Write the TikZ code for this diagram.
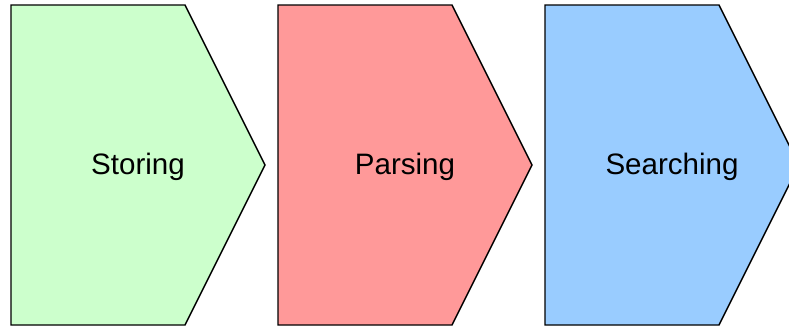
\documentclass[tikz,border=0pt]{standalone}
\usepackage{fontspec}
\setmainfont{Liberation Sans}
\usetikzlibrary{positioning}

\definecolor{storecol}{HTML}{CCFFCC}
\definecolor{parsecol}{HTML}{FF9999}
\definecolor{searchcol}{HTML}{99CCFF}

\tikzset{
    stage/.style={draw=black, line width=0.4pt, line join=miter},
    stagelabel/.style={font=\fontsize{8.4}{10}\selectfont, inner sep=0pt}
}

\begin{document}
\begin{tikzpicture}[x=0.01cm, y=-0.01cm]
    % picture frame, last arrow runs off the right edge
    \clip (0,0) rectangle (789,327);
    \useasboundingbox (0,0) rectangle (789,327);

    % three pointed stages, 267 apart
    \foreach \dx/\col/\name/\txt in {0/storecol/store/Storing,
                                     267/parsecol/parse/Parsing,
                                     534/searchcol/search/Searching}{
        \draw[stage, fill=\col] (11+\dx, 5) -- (185+\dx, 5) -- (265+\dx, 165)
            -- (185+\dx, 325) -- (11+\dx, 325) -- cycle;
        \node[stagelabel] (\name) at (138+\dx, 167) {\txt};
    }
\end{tikzpicture}
\end{document}
